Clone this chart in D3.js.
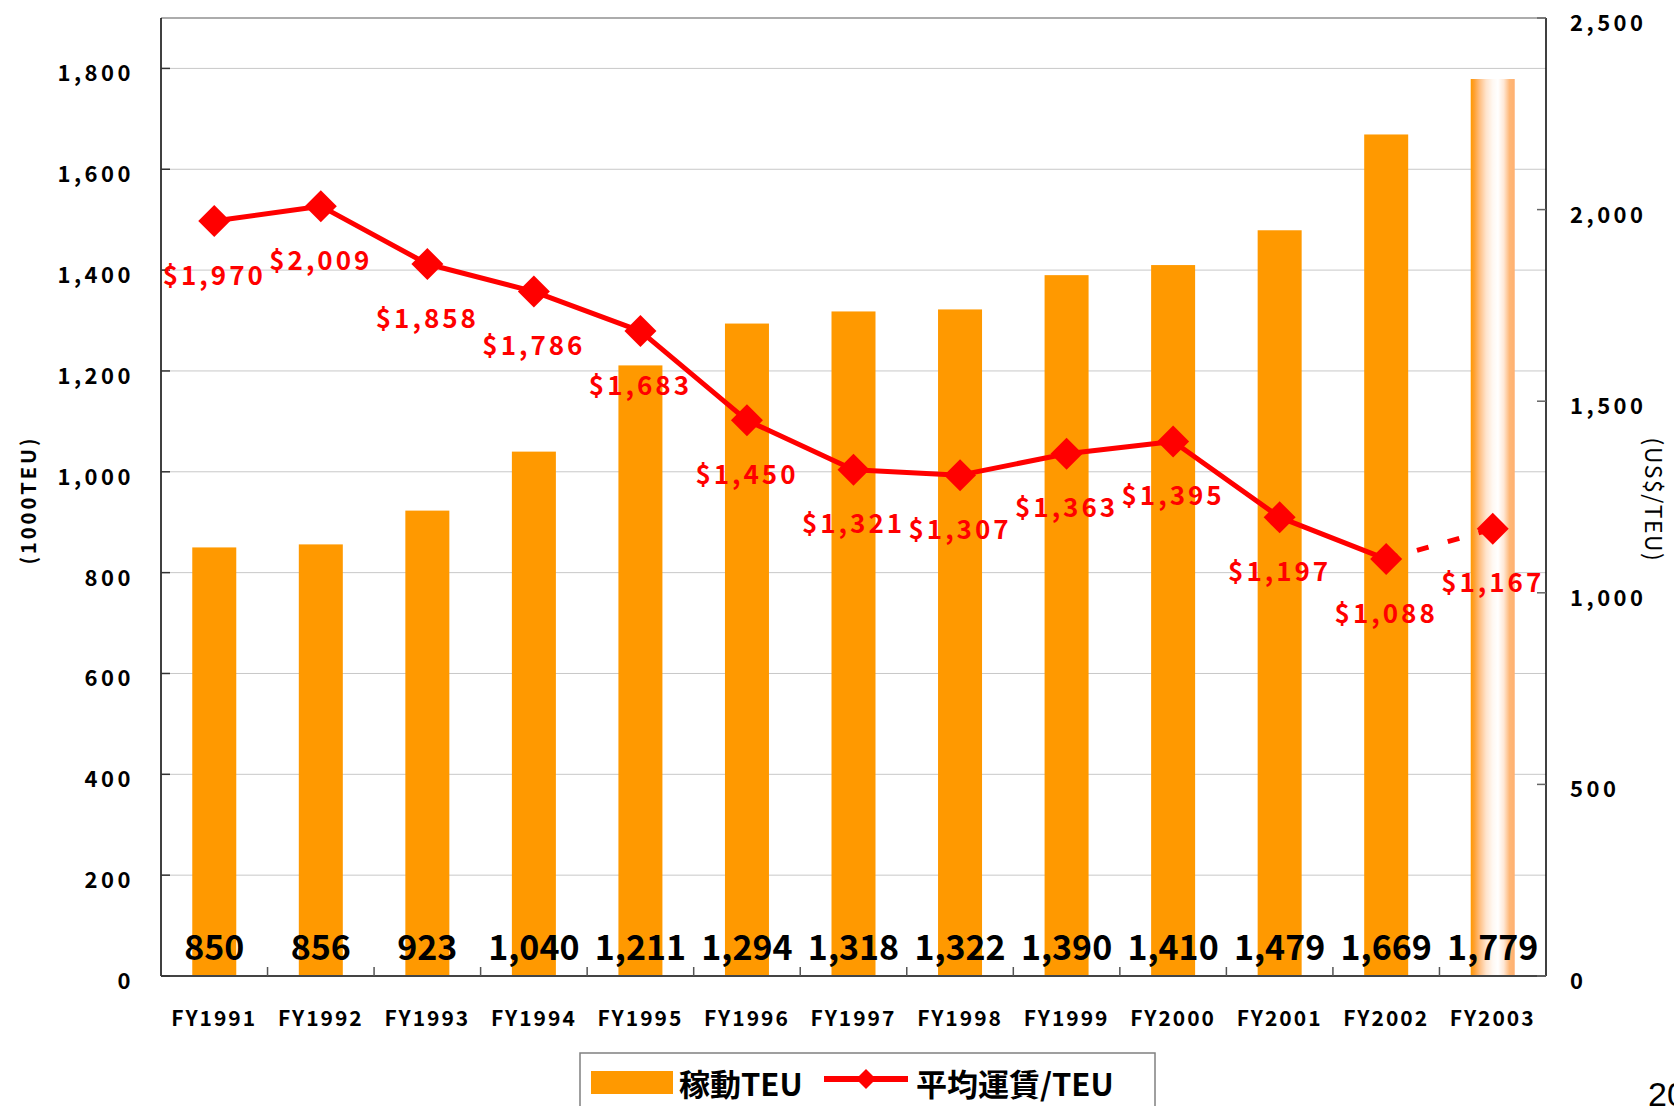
<!DOCTYPE html>
<html>
<head>
<meta charset="utf-8">
<script src="https://cdn.jsdelivr.net/npm/d3@7.9.0/dist/d3.min.js"></script>
<style>
  html, body { margin: 0; padding: 0; background: #fff; overflow: hidden; }
  svg { display: block; font-family: "Noto Sans CJK JP", "Noto Sans", sans-serif; }
</style>
</head>
<body>
<svg id="chart" width="1674" height="1106"></svg>
<script>
const years = ["FY1991", "FY1992", "FY1993", "FY1994", "FY1995", "FY1996", "FY1997",
  "FY1998", "FY1999", "FY2000", "FY2001", "FY2002", "FY2003"];
const teu = [850, 856, 923, 1040, 1211, 1294, 1318, 1322, 1390, 1410, 1479, 1669, 1779];
const fare = [1970, 2009, 1858, 1786, 1683, 1450, 1321, 1307, 1363, 1395, 1197, 1088, 1167];
const leftTicks = [0, 200, 400, 600, 800, 1000, 1200, 1400, 1600, 1800];
const rightTicks = [0, 500, 1000, 1500, 2000, 2500];

const orange = "#FF9900";
const red = "#FF0000";

const plot = { left: 161, right: 1546, top: 18, bottom: 976 };

const svg = d3.select("#chart");

const x = d3.scaleBand()
  .domain(years)
  .range([plot.left, plot.right])
  .paddingInner(0.587)
  .paddingOuter(0.2935);

const step = (plot.right - plot.left) / years.length;
const cx = d => x(d) + x.bandwidth() / 2;

const yL = d3.scaleLinear().domain([0, 1900]).range([plot.bottom, plot.top]);
const yR = d3.scaleLinear().domain([0, 2500]).range([plot.bottom, plot.top]);

// gradient for the forecast bar
const defs = svg.append("defs");
const grad = defs.append("linearGradient").attr("id", "fc").attr("x1", "0").attr("x2", "1").attr("y1", "0").attr("y2", "0");
[[0, "#FF9900"], [0.08, "#FFA030"], [0.2, "#FFBE80"], [0.35, "#FFE4CC"], [0.5, "#FFF8F2"],
 [0.62, "#FFFFFF"], [0.75, "#FFE8D6"], [0.88, "#FFB878"], [1, "#FFB070"]]
  .forEach(([o, c]) => grad.append("stop").attr("offset", o).attr("stop-color", c));

// gridlines
svg.append("g")
  .selectAll("line")
  .data(leftTicks.slice(1))
  .join("line")
  .attr("x1", plot.left).attr("x2", plot.right)
  .attr("y1", d => yL(d)).attr("y2", d => yL(d))
  .attr("stroke", "#C8C8C8").attr("stroke-width", 1);

// top border
svg.append("line")
  .attr("x1", plot.left).attr("x2", plot.right)
  .attr("y1", plot.top).attr("y2", plot.top)
  .attr("stroke", "#909090").attr("stroke-width", 1.5);

// bars
svg.append("g")
  .selectAll("rect")
  .data(years)
  .join("rect")
  .attr("x", d => x(d))
  .attr("width", x.bandwidth())
  .attr("y", (d, i) => yL(teu[i]))
  .attr("height", (d, i) => yL(0) - yL(teu[i]))
  .attr("fill", (d, i) => i === years.length - 1 ? "url(#fc)" : orange);

// axes lines
svg.append("line").attr("x1", plot.left).attr("x2", plot.left).attr("y1", plot.top).attr("y2", plot.bottom)
  .attr("stroke", "#000").attr("stroke-width", 1.5);
svg.append("line").attr("x1", plot.right).attr("x2", plot.right).attr("y1", plot.top).attr("y2", plot.bottom)
  .attr("stroke", "#000").attr("stroke-width", 1.5);
svg.append("line").attr("x1", plot.left).attr("x2", plot.right).attr("y1", plot.bottom).attr("y2", plot.bottom)
  .attr("stroke", "#444").attr("stroke-width", 2);

// left ticks + labels
svg.append("g")
  .selectAll("line")
  .data(leftTicks)
  .join("line")
  .attr("x1", plot.left).attr("x2", plot.left + 9)
  .attr("y1", d => yL(d)).attr("y2", d => yL(d))
  .attr("stroke", "#333").attr("stroke-width", 1.5);

svg.append("g")
  .selectAll("text")
  .data(leftTicks)
  .join("text")
  .attr("x", 134)
  .attr("y", d => yL(d) + 3)
  .attr("text-anchor", "end")
  .attr("dominant-baseline", "central")
  .attr("font-size", 22)
  .attr("font-weight", 700)
  .attr("letter-spacing", 3.5)
  .text(d => d3.format(",")(d));

// right ticks + labels
svg.append("g")
  .selectAll("line")
  .data(rightTicks)
  .join("line")
  .attr("x1", plot.right - 9).attr("x2", plot.right)
  .attr("y1", d => yR(d)).attr("y2", d => yR(d))
  .attr("stroke", "#666").attr("stroke-width", 1.5);

svg.append("g")
  .selectAll("text")
  .data(rightTicks)
  .join("text")
  .attr("x", 1570)
  .attr("y", d => yR(d) + 3)
  .attr("dominant-baseline", "central")
  .attr("font-size", 22)
  .attr("font-weight", 700)
  .attr("letter-spacing", 3.5)
  .text(d => d3.format(",")(d));

// category ticks
svg.append("g")
  .selectAll("line")
  .data(d3.range(1, years.length))
  .join("line")
  .attr("x1", i => plot.left + i * step).attr("x2", i => plot.left + i * step)
  .attr("y1", plot.bottom - 9).attr("y2", plot.bottom)
  .attr("stroke", "#555").attr("stroke-width", 1.5);

// x labels
svg.append("g")
  .selectAll("text")
  .data(years)
  .join("text")
  .attr("x", d => cx(d))
  .attr("y", 1017)
  .attr("text-anchor", "middle")
  .attr("dominant-baseline", "central")
  .attr("font-size", 21)
  .attr("font-weight", 700)
  .attr("letter-spacing", 2)
  .text(d => d);

// bar value labels
svg.append("g")
  .selectAll("text")
  .data(years)
  .join("text")
  .attr("x", d => cx(d))
  .attr("y", 945)
  .attr("text-anchor", "middle")
  .attr("dominant-baseline", "central")
  .attr("font-size", 34)
  .attr("font-weight", 700)
  .attr("fill", "#000")
  .text((d, i) => d3.format(",")(teu[i]));

// fare line
const pts = years.map((d, i) => [cx(d), yR(fare[i])]);
const line = d3.line();
svg.append("path")
  .attr("d", line(pts.slice(0, pts.length - 1)))
  .attr("fill", "none").attr("stroke", red).attr("stroke-width", 5)
  .attr("stroke-linejoin", "round");
svg.append("path")
  .attr("d", line(pts.slice(pts.length - 2)))
  .attr("fill", "none").attr("stroke", red).attr("stroke-width", 5)
  .attr("stroke-dasharray", "12,20");

const diamond = d3.symbol().type(d3.symbolSquare).size(512);
svg.append("g")
  .selectAll("path")
  .data(pts)
  .join("path")
  .attr("d", diamond)
  .attr("transform", d => `translate(${d[0]},${d[1]}) rotate(45)`)
  .attr("fill", red);

svg.append("g")
  .selectAll("text")
  .data(pts)
  .join("text")
  .attr("x", d => d[0])
  .attr("y", d => d[1] + 52)
  .attr("text-anchor", "middle")
  .attr("dominant-baseline", "central")
  .attr("font-size", 26)
  .attr("font-weight", 700)
  .attr("letter-spacing", 3)
  .attr("fill", red)
  .text((d, i) => "$" + d3.format(",")(fare[i]));

// axis titles
svg.append("text")
  .attr("transform", "translate(27,500) rotate(-90)")
  .attr("text-anchor", "middle")
  .attr("dominant-baseline", "central")
  .attr("font-size", 20)
  .attr("font-weight", 700)
  .attr("letter-spacing", 3)
  .text("(1000TEU)");

svg.append("text")
  .attr("transform", "translate(1655,500) rotate(90)")
  .attr("text-anchor", "middle")
  .attr("dominant-baseline", "central")
  .attr("font-size", 23)
  .attr("letter-spacing", 1.5)
  .text("(US$/TEU)");

// legend
const lg = svg.append("g");
lg.append("rect")
  .attr("x", 580).attr("y", 1053).attr("width", 575).attr("height", 70)
  .attr("fill", "#fff").attr("stroke", "#808080").attr("stroke-width", 1.5);
lg.append("rect")
  .attr("x", 591).attr("y", 1071).attr("width", 82).attr("height", 23)
  .attr("fill", orange);
lg.append("text")
  .attr("x", 679).attr("y", 1082)
  .attr("dominant-baseline", "central")
  .attr("font-size", 31).attr("font-weight", 700)
  .text("稼動TEU");
lg.append("line")
  .attr("x1", 824).attr("x2", 908).attr("y1", 1079).attr("y2", 1079)
  .attr("stroke", red).attr("stroke-width", 6);
lg.append("path")
  .attr("d", d3.symbol().type(d3.symbolSquare).size(200))
  .attr("transform", "translate(866,1079) rotate(45)")
  .attr("fill", red);
lg.append("text")
  .attr("x", 916).attr("y", 1082)
  .attr("dominant-baseline", "central")
  .attr("font-size", 31).attr("font-weight", 700)
  .text("平均運賃/TEU");

// page number, cut at the edge as in the source slide
svg.append("text")
  .attr("x", 1648).attr("y", 1106)
  .attr("font-family", "Liberation Sans, Arial, sans-serif")
  .attr("font-size", 34)
  .text("20");
</script>
</body>
</html>
